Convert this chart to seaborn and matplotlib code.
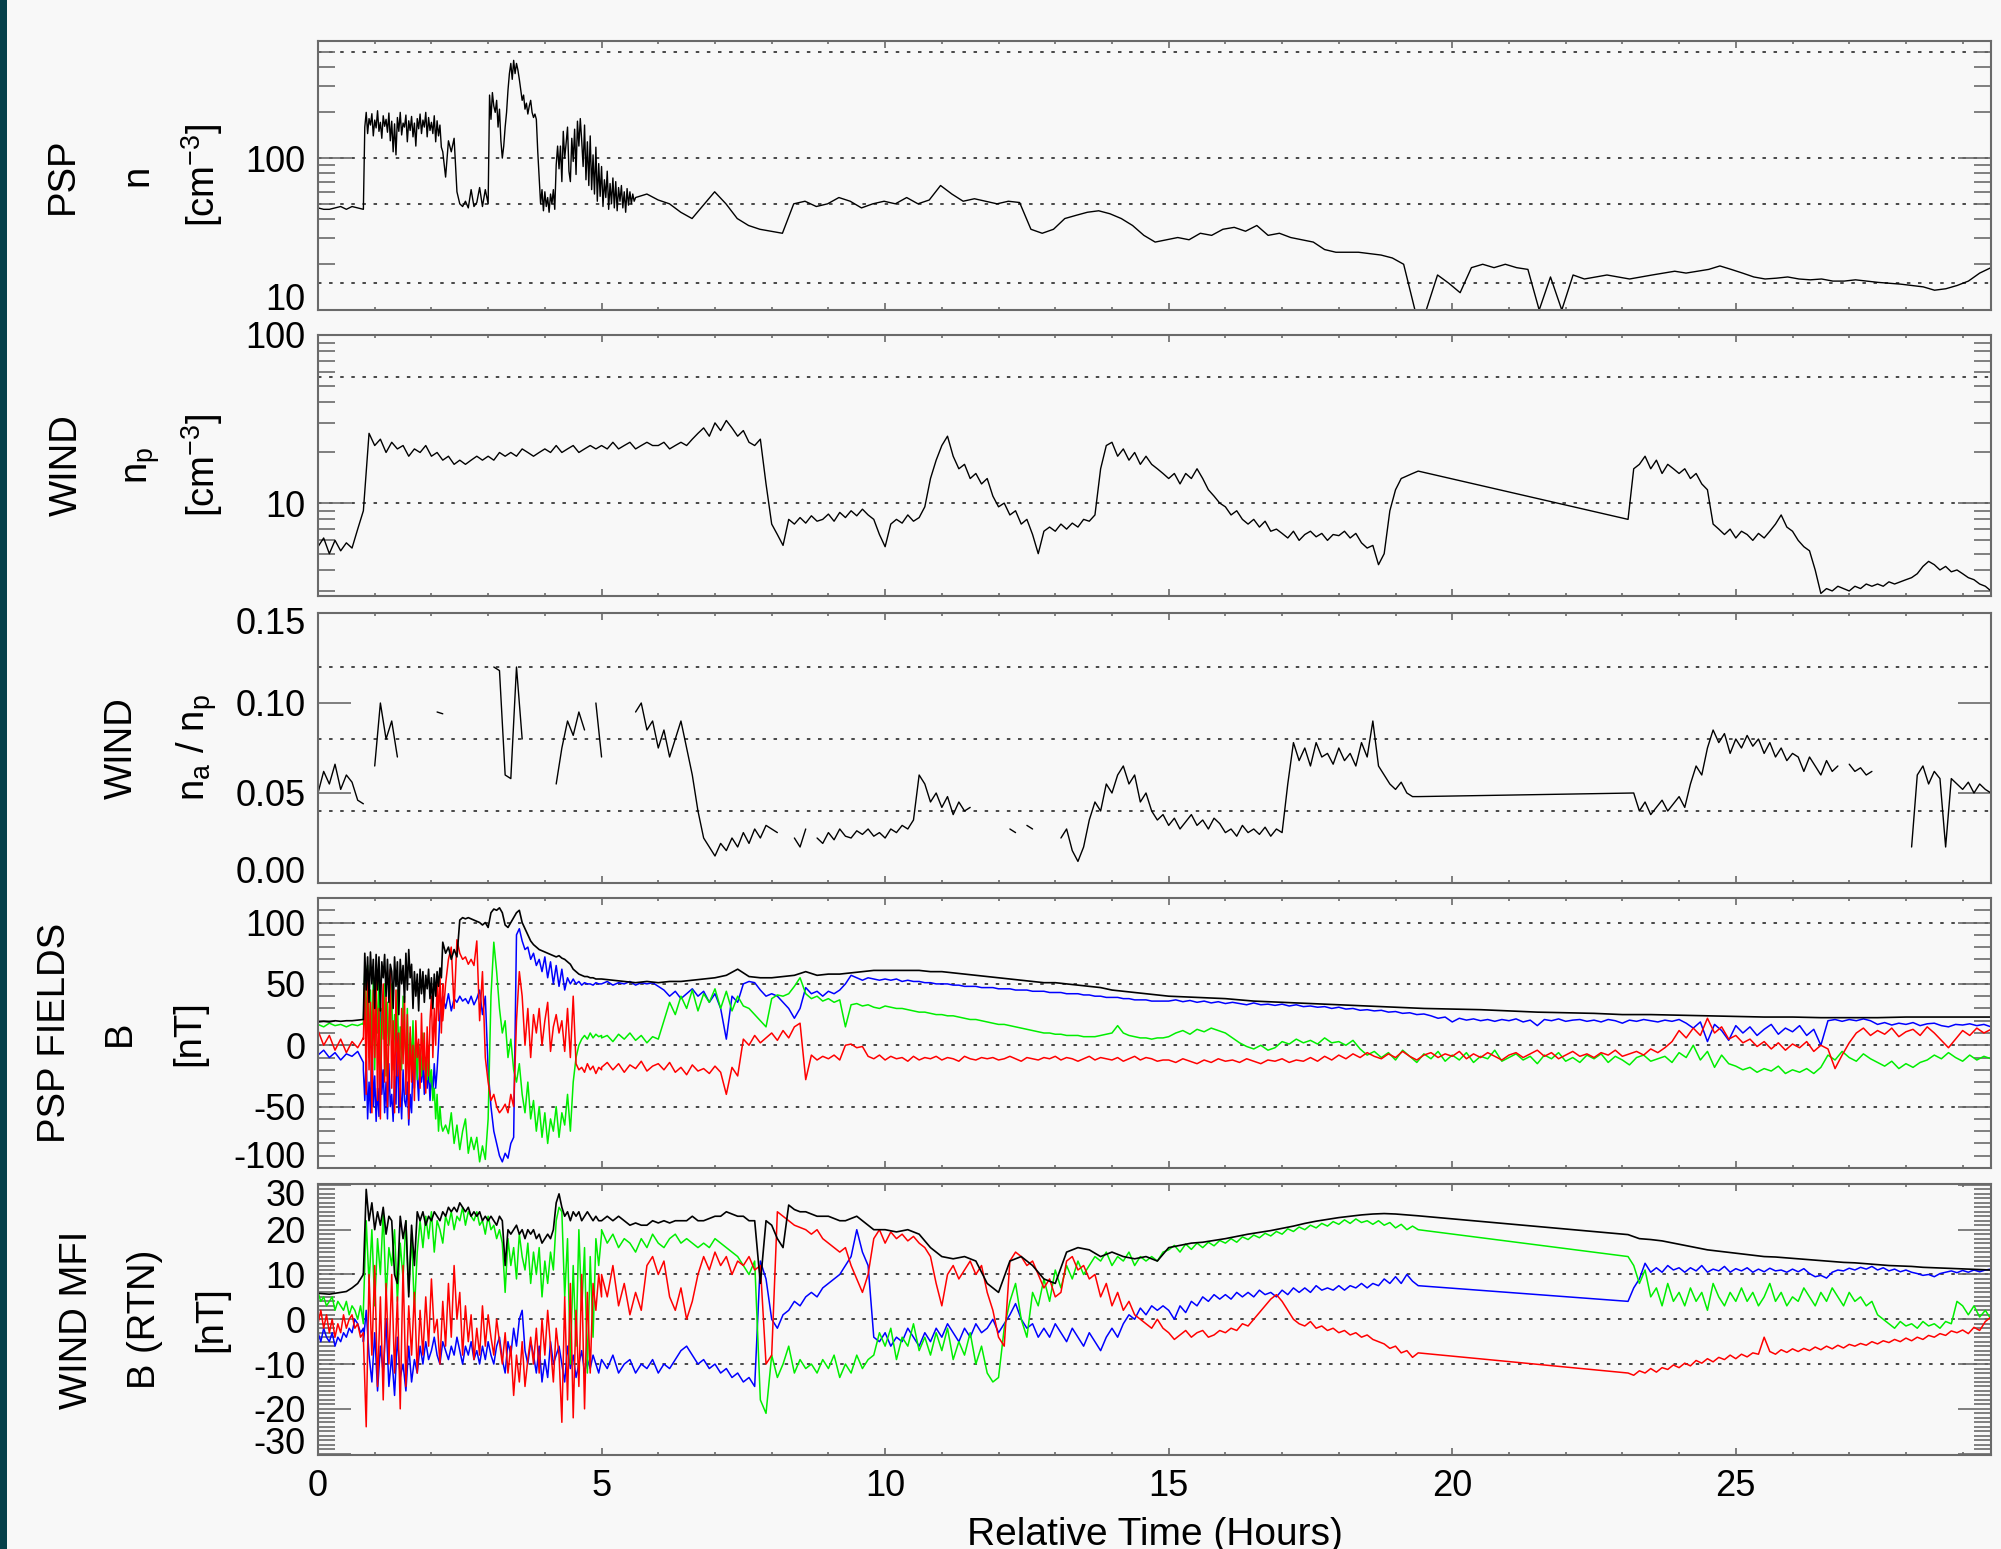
import numpy as np
import pandas as pd
import matplotlib
matplotlib.use("Agg")
import matplotlib.pyplot as plt
import seaborn as sns
from matplotlib.ticker import FixedLocator, MultipleLocator, NullFormatter
from matplotlib.patches import Rectangle
from matplotlib.transforms import ScaledTranslation

sns.set_theme(style="ticks")
plt.rcParams["font.family"] = ["Liberation Sans", "DejaVu Sans"]
plt.rcParams["mathtext.fontset"] = "custom"
plt.rcParams["mathtext.rm"] = "Liberation Sans"
plt.rcParams["mathtext.it"] = "Liberation Sans"
plt.rcParams["mathtext.default"] = "regular"
plt.rcParams["axes.unicode_minus"] = False
plt.rcParams["lines.scale_dashes"] = False

nan = np.nan

# ---------------------------------------------------------------- data
# Each series is stored as pieces sampled evenly between segment bounds (hours).

# PSP density n [cm^-3]
psp_n_segs = [(0.0, 0.8), (0.8, 2.2), (2.2, 3.0), (3.0, 5.6), (5.6, 29.5)]
psp_n = [
    [47, 46, 46, 47, 48, 46, 48, 47, 46],
    [46, 160, 200, 145, 182, 165, 196, 140, 178, 158,
     205, 150, 172, 135, 190, 162, 180, 148, 198, 130,
     175, 110, 168, 105, 185, 150, 200, 142, 170, 160,
     192, 128, 176, 152, 188, 138, 170, 120, 182, 156,
     195, 145, 178, 160, 200, 138, 185, 152, 172, 145,
     190, 128, 176, 140, 165, 118, 110],
    [110, 75, 130, 110, 135, 60, 50, 48, 52, 47, 62, 48, 51, 64, 48, 62, 50],
    [50, 260, 180, 270, 220, 200, 240, 160, 210, 130,
     100, 120, 160, 200, 280, 360, 420, 330, 440, 360,
     420, 380, 330, 280, 240, 260, 210, 230, 195, 220,
     240, 200, 185, 195, 180, 110, 75, 50, 62, 45,
     60, 48, 55, 44, 58, 50, 62, 46, 90, 120,
     85, 120, 70, 150, 100, 125, 160, 82, 70, 135,
     95, 155, 78, 175, 120, 182, 130, 88, 165, 72,
     128, 66, 140, 62, 105, 58, 118, 52, 92, 56,
     88, 48, 72, 55, 82, 46, 68, 50, 74, 47,
     70, 45, 64, 52, 66, 47, 60, 44, 63, 49,
     60, 50, 58, 52, 55],
    [55, 58, 53, 50, 44, 40, 49, 60, 50, 40,
     36, 34, 33, 32, 50, 52, 48, 50, 55, 52,
     47, 50, 52, 50, 55, 50, 53, 66, 58, 52,
     54, 52, 50, 52, 51, 34, 32, 34, 40, 42,
     44, 45, 43, 40, 36, 31, 28, 29, 30, 29,
     32, 31, 34, 35, 33, 36, 31, 32, 30, 29,
     28, 25, 24, 24, 24, 23.5, 23, 22, 20, 10,
     10, 17, 15, 13, 19, 20, 19, 20, 19, 18.5,
     10, 16.5, 10, 17, 16, 16.5, 17, 16.5, 16, 16.5,
     17, 17.5, 18, 17.5, 18, 18.5, 19.5, 18.5, 17.5, 16.5,
     16, 16.2, 16.5, 16, 15.8, 16, 15.5, 15.5, 15.8, 15.5,
     15.2, 15, 14.8, 14.5, 14.2, 13.5, 13.8, 14.5, 15.5, 17.5, 19],
]

# WIND proton density n_p [cm^-3]
wind_np_segs = [(0.0, 19.4), (23.1, 29.5)]
wind_np = [
    [5.5, 6.2, 5.0, 6.0, 5.2, 5.8, 5.4, 7.0, 9.0, 26,
     22, 24, 20, 23, 21, 22, 19, 21, 20, 22,
     19, 20, 18, 19, 17, 18, 17, 18, 19, 18,
     19, 18, 20, 19, 20, 19, 21, 20, 19, 20,
     21, 20, 22, 20, 21, 22, 20, 21, 22, 21,
     22, 21, 23, 21, 22, 23, 21, 22, 23, 22,
     22, 23, 21, 22, 23, 22, 24, 26, 28, 25,
     30, 27, 31, 28, 25, 27, 23, 22, 24, 13,
     7.5, 6.5, 5.6, 8.0, 7.5, 8.2, 7.6, 8.4, 7.8, 8.0,
     8.6, 7.8, 8.8, 8.2, 9.0, 8.4, 9.2, 8.5, 8.0, 6.5,
     5.5, 7.5, 8.0, 7.6, 8.5, 7.8, 8.2, 9.5, 14, 18,
     22, 25, 19, 16, 17, 14, 15, 13, 14, 11,
     9.5, 10, 8.5, 9.0, 7.5, 8.0, 6.5, 5.0, 6.8, 7.2,
     6.8, 7.5, 7.0, 7.6, 7.2, 8.0, 7.8, 8.5, 16, 22,
     23, 19, 21, 18, 20, 17, 19, 17, 16, 15,
     14, 15, 13, 15, 14, 16, 14, 12, 11, 10,
     9.5, 8.5, 9.0, 8.0, 7.5, 8.0, 7.2, 7.8, 6.8, 7.0,
     6.6, 6.2, 6.8, 6.0, 6.5, 6.8, 6.3, 6.6, 6.0, 6.5,
     6.4, 6.8, 6.2, 6.6, 5.8, 5.4, 5.6, 4.3, 5.0, 9.0,
     12, 14, 14.5, 15, 15.5],
    [8.0, 16, 17, 19, 16, 18, 15, 17, 16, 15,
     16, 14, 15, 13, 12, 7.5, 7.0, 6.5, 7.0, 6.2,
     6.8, 6.5, 6.0, 6.6, 6.2, 6.8, 7.5, 8.5, 7.2, 6.8,
     6.0, 5.5, 5.2, 4.0, 2.9, 3.1, 3.0, 3.2, 3.1, 3.0,
     3.2, 3.1, 3.3, 3.2, 3.3, 3.2, 3.4, 3.3, 3.4, 3.5,
     3.6, 3.8, 4.2, 4.5, 4.3, 4.0, 4.2, 3.9, 4.0, 3.8,
     3.6, 3.5, 3.3, 3.2, 3.0],
]

# WIND alpha-to-proton ratio (nan = no data)
wind_ratio_segs = [(0.0, 19.4), (23.2, 29.5)]
wind_ratio = [
    [0.050, 0.062, 0.055, 0.066, 0.052, 0.060, 0.056, 0.046, 0.044, nan,
     0.065, 0.100, 0.080, 0.090, 0.070, nan, nan, nan, nan, nan,
     nan, 0.095, 0.094, nan, nan, nan, nan, nan, nan, nan,
     nan, 0.120, 0.118, 0.060, 0.058, 0.120, 0.080, nan, nan, nan,
     nan, nan, 0.055, 0.075, 0.090, 0.082, 0.095, 0.085, nan, 0.100,
     0.070, nan, nan, nan, 0.100, nan, 0.095, 0.100, 0.085, 0.090,
     0.075, 0.085, 0.070, 0.080, 0.090, 0.075, 0.060, 0.040, 0.025, 0.020,
     0.015, 0.022, 0.018, 0.025, 0.020, 0.028, 0.022, 0.030, 0.025, 0.032,
     0.030, 0.028, nan, nan, 0.025, 0.020, 0.030, nan, 0.025, 0.022,
     0.028, 0.024, 0.030, 0.026, 0.025, 0.029, 0.027, 0.030, 0.026, 0.028,
     0.025, 0.030, 0.028, 0.032, 0.030, 0.035, 0.060, 0.055, 0.045, 0.050,
     0.042, 0.048, 0.038, 0.045, 0.040, 0.042, nan, nan, nan, nan,
     nan, nan, 0.030, 0.028, nan, 0.032, 0.030, nan, nan, nan,
     nan, 0.025, 0.030, 0.018, 0.012, 0.020, 0.035, 0.045, 0.040, 0.055,
     0.050, 0.060, 0.065, 0.055, 0.060, 0.045, 0.050, 0.040, 0.035, 0.038,
     0.032, 0.036, 0.030, 0.034, 0.038, 0.032, 0.035, 0.030, 0.036, 0.033,
     0.028, 0.030, 0.026, 0.032, 0.028, 0.030, 0.027, 0.031, 0.026, 0.030,
     0.028, 0.055, 0.078, 0.068, 0.075, 0.065, 0.078, 0.070, 0.072, 0.066,
     0.075, 0.068, 0.072, 0.065, 0.078, 0.070, 0.090, 0.065, 0.060, 0.055,
     0.052, 0.056, 0.050, 0.048, 0.048],
    [0.050, 0.040, 0.045, 0.038, 0.042, 0.046, 0.040, 0.044, 0.048, 0.042,
     0.055, 0.065, 0.060, 0.075, 0.085, 0.078, 0.083, 0.072, 0.080, 0.075,
     0.082, 0.076, 0.080, 0.072, 0.078, 0.070, 0.075, 0.068, 0.072, 0.070,
     0.062, 0.070, 0.065, 0.060, 0.068, 0.062, 0.065, nan, 0.066, 0.062,
     0.064, 0.060, 0.062, nan, nan, nan, nan, nan, nan, 0.020,
     0.060, 0.065, 0.055, 0.062, 0.058, 0.020, 0.058, 0.055, 0.052, 0.056,
     0.050, 0.055, 0.052, 0.050],
]

# PSP FIELDS magnetic field [nT]
psp_b_segs = [(0.0, 0.8), (0.8, 2.2), (2.2, 5.0), (5.0, 15.0), (15.0, 29.5)]
psp_b_mag = [
    [19, 19.5, 19, 20, 19.5, 20, 20, 20.5, 21],
    [22, 75, 45, 72, 35, 76, 50, 70, 30, 74,
     45, 72, 28, 68, 55, 74, 40, 70, 35, 66,
     60, 30, 72, 48, 68, 25, 70, 50, 65, 35,
     75, 45, 78, 55, 66, 30, 60, 40, 58, 28,
     62, 42, 60, 35, 57, 46, 62, 38, 55, 30,
     58, 40, 60, 48, 63, 55, 84],
    [84, 75, 80, 70, 78, 72, 102, 104, 103, 104,
     103, 102, 101, 100, 98, 100, 96, 108, 111, 110,
     112, 108, 98, 96, 100, 104, 108, 110, 100, 95,
     90, 85, 82, 80, 78, 77, 76, 75, 74, 73,
     72, 73, 71, 70, 68, 66, 62, 60, 58, 57,
     56, 56, 55, 55, 54, 54, 54],
    [54, 53, 52, 51, 52, 51, 52, 52, 53, 54,
     55, 57, 62, 56, 55, 55, 56, 57, 60, 57,
     58, 58, 59, 60, 61, 61, 61, 61, 61, 60,
     60, 59, 58, 57, 56, 55, 54, 53, 52, 51,
     51, 50, 49, 48, 47, 45, 44, 43, 42, 41, 40],
    [40, 39, 38, 36, 35, 34, 33, 32, 31, 30,
     29.5, 29, 28, 27, 26.5, 26, 25, 25, 24.5, 24,
     23.5, 23, 23, 22.5, 22.5, 22.5, 23, 23, 23, 23],
]
psp_b_blue = [
    [-8, -4, -10, -6, -12, -7, -9, -5, -14],
    [-20, -45, -10, -60, -30, -55, 15, -50, -25, -62,
     -35, -58, 30, -40, -20, -55, -30, -60, -15, -50,
     -40, -62, -25, -48, 10, -55, -35, -60, -20, -45,
     -50, -30, -65, -40, -55, -10, -35, 5, -25, -45,
     -5, -30, -15, -40, -10, -35, -20, -45, -25, -38,
     -15, -35, -20, 0, 25, 35, 40],
    [40, 30, 42, 28, 38, 35, 40, 36, 38, 34,
     40, 33, 38, 45, 25, 40, -20, -50, -70, -80,
     -90, -95, -88, -92, -80, -75, 90, 95, 85, 78,
     80, 70, 75, 65, 70, 60, 72, 55, 68, 50,
     65, 48, 62, 45, 55, 50, 54, 50, 52, 49,
     51, 50, 50, 49, 51, 50, 50],
    [50, 52, 49, 51, 50, 52, 49, 51, 50, 51,
     48, 45, 40, 44, 38, 42, 46, 40, 44, 35,
     42, 30, 5, 40, 35, 50, 52, 51, 45, 40,
     42, 40, 35, 30, 22, 30, 47, 42, 44, 40,
     44, 42, 45, 50, 57, 55, 53, 55, 54, 53,
     54, 53, 54, 52, 53, 52, 52, 51, 51, 50,
     50, 50, 49, 49, 48, 48, 48, 47, 47, 47,
     46, 46, 46, 45, 45, 45, 44, 44, 44, 43,
     43, 43, 42, 42, 42, 41, 41, 40, 40, 39,
     39, 39, 38, 38, 37, 37, 37, 36, 36, 36,
     36],
    [36, 37, 35.5, 36.5, 35, 36, 34.5, 35.5, 34, 35,
     34, 33, 34.5, 33, 33.5, 32.5, 33.5, 32, 33, 31.5,
     32, 31, 31.5, 30, 31, 29.5, 30, 28.5, 29, 28,
     28.5, 27, 27.5, 26, 26.5, 25, 25.5, 24, 22, 23,
     19, 22, 20.5, 21.5, 20, 21, 19.5, 21, 20, 21.5,
     19, 20.5, 16, 21, 20, 21.5, 19.5, 20.5, 21, 19.5,
     20.5, 19, 21, 20, 18, 20.5, 19.5, 21, 20, 19,
     20.5, 19.5, 21, 18, 14, 19, 3, 17, 12, 4,
     16, 10, 15, 8, 13, 17, 9, 14, 11, 16,
     8, 13, 0, 20, 21, 19.5, 21, 20, 21.5, 20,
     17, 18.5, 16.5, 18, 17, 18.5, 16, 17.5, 18, 16,
     15, 17, 16.5, 17.5, 16, 17, 15],
]
psp_b_green = [
    [17, 15, 18, 16, 17, 15, 17, 16, 18],
    [17, 60, 10, 65, -10, 45, 0, 55, -20, 40,
     10, 60, -15, 30, 5, 50, -25, 35, 0, 20,
     50, -20, 25, -5, 45, -15, 15, -20, 40, 5,
     -10, 30, -25, 10, -15, 20, -20, 5, -28, 0,
     -5, -25, 10, -20, -10, -28, 0, -30, -20, -45,
     -35, -60, -40, -70, -50, -65, -70],
    [-70, -65, -72, -55, -80, -65, -85, -70, -60, -88,
     -75, -85, -75, -95, -82, -93, -60, 40, 84, 60,
     30, 10, 20, -10, 5, -20, -30, -15, -40, -55,
     -30, -60, -45, -70, -50, -75, -55, -80, -60, -70,
     -50, -75, -55, -65, -40, -70, -30, -10, 0, 5,
     8, 5, 10, 6, 9, 7, 8],
    [6, 8, 3, 9, 5, 10, 4, 8, 2, 7,
     5, 20, 35, 25, 40, 30, 45, 28, 42, 35,
     46, 30, 44, 28, 40, 32, 30, 25, 20, 15,
     38, 41, 40, 42, 48, 55, 42, 38, 40, 36,
     38, 35, 37, 15, 33, 34, 32, 33, 31, 30,
     32, 31, 30, 30, 29, 28, 27, 27, 26, 25,
     25, 24, 24, 23, 22, 21, 21, 20, 19, 18,
     17, 17, 16, 15, 14, 13, 12, 11, 10, 10,
     9, 9, 8, 8, 8, 7, 7, 7, 8, 9,
     10, 16, 10, 8, 7, 6, 6, 5, 6, 6,
     7],
    [7, 10, 12, 9, 13, 11, 14, 12, 10, 6,
     2, -1, -3, 0, -4, -2, 3, 1, 5, 2,
     4, 1, 6, 2, 3, 0, 4, -3, -8, -5,
     -10, -6, -12, -4, -9, -14, -7, -11, -5, -13,
     -8, -12, -6, -14, -9, -11, -4, -13, -10, -7,
     -12, -9, -15, -8, -11, -6, -13, -10, -14, -8,
     -11, -7, -14, -9, -12, -16, -10, -8, -13, -11,
     -9, -14, -6, -10, 0, -12, -5, -18, -8, -15,
     -17, -20, -18, -22, -19, -21, -17, -23, -20, -22,
     -19, -23, -18, -8, -12, -5, -10, -13, -7, -11,
     -14, -17, -13, -19, -15, -18, -14, -12, -8, -11,
     -6, -10, -13, -8, -12, -9, -11],
]
psp_b_red = [
    [12, 0, 8, -4, 5, -6, 3, -2, 6],
    [5, 50, -40, 60, -20, 35, -55, 45, -10, 55,
     -45, 30, -60, 20, 50, -30, 40, -50, 10, 62,
     -35, 20, -55, 45, -25, 10, -50, 30, -15, 40,
     -40, 25, -60, 15, -30, 0, -45, 20, -10, 5,
     -35, 26, -20, 10, -39, 15, -25, 20, 40, -10,
     30, 0, 55, 20, 60, 10, 50],
    [20, 50, 70, 80, 30, 86, 75, 70, 72, 66,
     70, 65, 85, 20, 60, -10, -30, -45, -40, -50,
     -55, -52, -48, -55, -40, -50, 20, 60, 40, 0,
     30, -10, 25, 10, 30, 0, 20, 35, -5, 15,
     25, 10, 20, -5, 30, -10, 40, -15, -20, -18,
     -22, -15, -20, -17, -23, -18, -20],
    [-18, -14, -20, -15, -22, -16, -19, -13, -21, -17,
     -15, -20, -14, -22, -18, -24, -16, -21, -19, -23,
     -17, -22, -40, -18, -25, 5, 0, 8, 2, 6,
     10, 4, 12, 6, 15, 18, -28, -8, -12, -9,
     -11, -8, -12, 0, 1, -2, -1, -9, -11, -8,
     -12, -9, -11, -10, -13, -9, -12, -10, -11, -9,
     -12, -10, -11, -13, -9, -11, -12, -10, -11, -10,
     -12, -11, -9, -11, -13, -10, -11, -12, -10, -11,
     -9, -12, -10, -11, -13, -11, -9, -12, -10, -11,
     -12, -10, -13, -11, -9, -12, -10, -11, -13, -12,
     -12],
    [-12, -14, -11, -13, -15, -12, -14, -11, -13, -12,
     -14, -11, -13, -15, -12, -13, -11, -14, -12, -13,
     -10, -13, -9, -12, -8, -11, -7, -10, -6, -9,
     -11, -7, -10, -5, -9, -12, -8, -6, -10, -7,
     -9, -5, -11, -7, -10, -6, -9, -12, -8, -6,
     -10, -7, -4, -9, -6, -11, -8, -5, -9, -7,
     -10, -6, -8, -4, -9, -7, -5, -8, -3, -6,
     -2, 3, 12, 6, 14, 8, 22, 10, 15, 5,
     8, 2, 5, -1, 3, -3, 2, -4, 1, -2,
     3, -5, 0, -3, -19, -8, 2, 10, 14, 8,
     12, 9, 14, 7, 11, 13, 8, 15, 10, 4,
     -2, 5, 12, 8, 14, 10, 13],
]

# WIND MFI magnetic field, RTN [nT]
wind_b_segs = [(0.0, 0.8), (0.8, 5.0), (5.0, 9.8), (9.8, 15.0), (15.0, 19.4), (23.1, 29.5)]
wind_b_mag = [
    [5.8, 5.7, 5.6, 5.8, 6.0, 6.2, 7.0, 8.0, 10],
    [10, 29, 22, 26, 20, 24, 21, 25, 19, 23,
     22, 10, 8, 23, 18, 22, 5, 21, 12, 24,
     22, 24, 21, 23, 22, 24, 23, 22, 24, 23,
     25, 24, 25, 24, 26, 25, 24, 25, 23, 24,
     23, 24, 22, 23, 22, 23, 22, 21, 23, 22,
     12, 20, 19, 20, 21, 19, 20, 18, 20, 19,
     20, 18, 19, 17, 18, 19, 18, 20, 26, 28,
     25, 23, 24, 22, 24, 23, 24, 22, 23, 24,
     23, 22, 23, 22, 22],
    [22, 23, 22, 23, 22, 21, 21.5, 21, 21, 22,
     21.5, 22, 21.5, 22, 22, 22, 23, 22, 22, 22.5,
     23, 23, 24, 23.5, 23, 23, 22, 22, 8, 22,
     21, 18, 16, 25.5, 24.5, 24, 24, 23.5, 23, 23,
     23, 22.5, 22, 22, 22.5, 23, 22, 21, 20],
    [20, 20, 19.5, 20, 19, 16, 14, 13.5, 14, 13,
     8, 6, 13, 14, 12, 9, 8, 15, 16, 15.5,
     14, 15, 14, 13.5, 14, 13, 16],
    [16, 16.5, 17, 17.2, 17.6, 18, 18.5, 19, 19.4, 19.8,
     20.3, 20.8, 21.4, 21.9, 22.3, 22.7, 23, 23.3, 23.5, 23.6,
     23.5, 23.3, 23.1],
    [18.9, 18, 17.8, 17.5, 17, 16.5, 16, 15.5, 15.2, 14.9,
     14.6, 14.3, 14, 13.9, 13.7, 13.5, 13.3, 13.1, 12.9, 12.7,
     12.6, 12.4, 12.2, 12.0, 11.9, 11.8, 11.6, 11.5, 11.4, 11.3,
     11.2, 11.1, 11.0],
]
wind_b_green = [
    [6, 4, 5, 3, 4, 5, 2, 4, 3, 2, 4, 1, 3, 2, 0, 3, -1],
    [2, 22, 8, 20, 3, 18, 10, 24, 5, 16,
     12, 20, 4, 17, 9, 22, 6, 19, 2, 15,
     22, 16, 23, 18, 24, 15, 22, 20, 17, 23,
     21, 24, 20, 23, 22, 25, 21, 24, 23, 22,
     24, 21, 22, 19, 23, 20, 21, 18, 20, 17,
     6, 18, 12, 16, 9, 19, 14, 11, 17, 8,
     15, 10, 16, 5, 13, 8, 15, 11, 22, 25,
     24, 5, 18, -10, 12, -6, 20, 2, 16, -12,
     14, -4, 18, 12, 19],
    [20, 17, 19, 16, 18, 17, 15, 18, 16, 19,
     17, 16, 18, 19, 17, 18, 17, 16, 17, 16,
     18, 17, 16, 15, 14, 12, 10, 13, -18, -21,
     -8, -13, -10, -6, -12, -9, -11, -10, -12, -9,
     -11, -8, -13, -10, -12, -8, -11, -9, -8],
    [-8, -3, -6, -2, -9, -4, -6, -1, -7, -4,
     -8, -3, -7, -2, -9, -5, -8, -3, -10, -6,
     -12, -14, -13, -2, 4, 8, 0, -4, 6, 3,
     9, 4, 11, 7, 12, 9, 13, 10, 12, 14,
     13, 15, 12, 14, 13, 15, 12, 14, 13, 14,
     13, 15, 15.5],
    [15.5, 16.5, 15, 16.8, 15.6, 17, 16, 17.2, 16.4, 17.6,
     17, 18, 17.2, 18.4, 17.8, 18.8, 18.2, 19.2, 18.6, 19.6,
     19, 20.2, 19.6, 20.6, 20, 21, 20.4, 21.4, 20.8, 21.8,
     21.2, 22.2, 21.4, 22.4, 21.6, 22, 21.2, 22, 21, 21.6,
     20.4, 21.2, 20, 20.8, 20],
    [14, 12, 8, 11, 5, 7, 3, 8, 4, 6,
     3, 7, 4, 6, 2, 8, 5, 3, 6, 4,
     7, 4, 6, 3, 5, 8, 4, 6, 3, 5,
     4, 7, 5, 3, 6, 4, 7, 5, 3, 6,
     4, 5, 3, 4, 1, 0, -1, -2, -0.5, -1.5,
     -1, -2, -0.5, -1.5, -1, -2, -0.5, -1, 4, 3,
     1, 3, 0.5, 2, 0],
]
wind_b_blue = [
    [-3, -5, -2, -4, -5, -3, -6, -4, -5, -3, -4, -2, -3, 0, -1, -3, -2],
    [-5, 2, -8, -14, -3, -16, -6, -12, 0, -15,
     -8, -17, -4, -13, -10, -16, -6, -14, -9, -12,
     -6, -10, -5, -9, -7, -4, -8, -10, -5, -7,
     -9, -6, -8, -4, -7, -10, -6, -8, -5, -9,
     -7, -10, -6, -9, -5, -8, -10, -6, -4, -9,
     -12, -5, -8, -2, -6, 0, 2, -7, -10, -5,
     -8, -12, -6, -14, -9, -13, -5, -10, -8, -6,
     -10, -14, -6, -11, -8, -13, -10, -7, -12, -9,
     -11, -8, -10, -12, -9],
    [-9, -11, -8, -12, -10, -9, -12, -10, -11, -9,
     -12, -10, -11, -9, -7, -6, -8, -10, -9, -11,
     -10, -12, -11, -13, -12, -14, -13, -15, 13, 9,
     0, -2, 1, 2, 4, 3, 5, 6, 5, 7,
     8, 9, 10, 12, 14, 20, 15, 12, -4],
    [-4, -5, -3, -6, -4, -5, -2, -4, -6, -3,
     -5, -2, -4, -1, -3, -5, -2, -4, -1, -3,
     -2, 0, -3, -1, 1, 3.5, 0, -2, -1, -4,
     -2, -4, -1, -3, -5, -2, -4, -6, -3, -5,
     -7, -4, -2, -4, -1, 1, 0, 2.5, 1, 3,
     2, 3, 2],
    [2, 0, 3, 1.5, 4, 3, 5, 4, 5.5, 4.5,
     5.5, 4.5, 6, 5, 6, 5, 6.5, 5.5, 6, 5,
     6.5, 5.5, 7, 6, 7, 6, 7.5, 6.5, 7, 6.5,
     7.5, 6.5, 7.5, 7, 8, 7, 8, 7.5, 9, 8,
     9.5, 8, 10, 8.5, 7.5],
    [4, 7, 9, 12.5, 10.5, 11.5, 10.5, 12, 11, 11.5,
     10.5, 11.5, 10.8, 12, 10.5, 11.2, 10.8, 11.8, 10.5, 11.3,
     10.8, 11.5, 10.5, 11.2, 10.6, 11.4, 10.8, 11, 10.5, 11.2,
     10.6, 11.3, 10.2, 9.5, 9.8, 9.2, 10.5, 11, 10.8, 11.4,
     11, 11.6, 11.2, 11.8, 11, 11.5, 10.8, 11.2, 10.6, 11,
     10.5, 10.2, 9.8, 10, 9.5, 10.2, 10.5, 10.8, 10.4, 10.9,
     10.5, 11, 10.6, 11, 11.2],
]
wind_b_red = [
    [-1, 2, -2, 1, -3, 0, -4, -1, -3, 1, -2, 0, 1, -2, -1, -4, -3],
    [-4, -24, 10, -8, 12, -15, 5, -18, 8, -10,
     10, -12, 5, -20, 12, -15, 3, -8, 6, -12,
     2, -8, 5, -6, 9, -3, 0, -10, 4, -6,
     8, -4, 12, 0, 6, -8, 3, -5, 1, -9,
     -2, -8, 3, -6, 1, -4, -8, 0, -5, -10,
     -3, -12, -6, -17, -8, -14, -5, -15, -9, -4,
     -10, -2, -12, 0, -8, 2, -6, -14, -2, -8,
     -23, 5, -18, 8, -22, 2, -15, 10, -20, 6,
     -12, 8, 2, 10, 5],
    [10, 5, 12, 3, 8, 1, 6, 2, 12, 14,
     10, 13, 5, 2, 7, 0, 4, 10, 14, 11,
     15, 12, 14, 10, 13, 12, 14, 11, 12, -10,
     -8, 24, 23, 22, 21, 20.5, 20, 19, 20, 18,
     17, 16, 15, 16, 12, 9, 6, 10, 18],
    [18, 20, 17, 19.5, 18, 19, 17.5, 18.5, 17, 16,
     14, 8, 3, 10, 12, 9, 11, 13, 10, 12,
     6, 2, -4, -6, 13, 15, 14, 12, 13, 10,
     7, 9, 5, 6, 13, 14, 11, 12, 9, 10,
     5, 8, 3, 6, 2, 4, 1, 0, -1, -2,
     0, -2, -3],
    [-3, -4.5, -3.5, -2.5, -4, -3, -2.5, -4, -3.5, -2.5,
     -3, -2, -2.5, -1, -1.5, 0, 1.5, 3, 4.5, 5.5,
     4, 2, 0, -1, -1.5, -0.5, -2, -1.5, -2.5, -2,
     -3, -2.5, -3.5, -3, -4, -3.5, -4.5, -5, -5.5, -6.5,
     -6, -7.5, -7, -8.5, -7.5],
    [-12, -12.5, -11.5, -12, -11, -11.8, -10.8, -11.2, -10.2, -10.8,
     -9.8, -10.4, -9.2, -9.8, -8.8, -9.5, -8.5, -9, -8, -8.8,
     -7.8, -8.4, -7.5, -7.8, -4, -7.2, -7.8, -6.8, -7.4, -6.6,
     -7.2, -6.5, -7, -6.2, -6.8, -6, -6.6, -5.8, -6.4, -5.6,
     -6, -5.4, -5.8, -5, -5.5, -4.8, -5.2, -4.5, -5, -4.2,
     -4.8, -4, -4.5, -3.6, -4, -3.2, -3.6, -2.6, -3, -2.4,
     -3.2, -1.8, -2.5, -0.5, 0.5],
]

# ---------------------------------------------------------------- helpers
def series(segs, parts):
    t = np.concatenate([np.linspace(a, b, len(p)) for (a, b), p in zip(segs, parts)])
    v = np.concatenate([np.asarray(p, dtype=float) for p in parts])
    return t, v


def draw(ax, segs, parts, color, lw=1.0):
    t, v = series(segs, parts)
    df = pd.DataFrame({"t": t, "v": v})
    df["run"] = df["v"].isna().cumsum()
    df = df.dropna()
    sns.lineplot(data=df, x="t", y="v", units="run", estimator=None, sort=False,
                 color=color, linewidth=lw, ax=ax, legend=False)
    ax.set_xlabel("")
    ax.set_ylabel("")


BG = "#f8f8f8"
FRAME = "#6a6a6a"
GRID = "#3a3a3a"
FS_TICK = 26
FS_LAB = 27.5

W, H = 2001, 1549
fig = plt.figure(figsize=(W / 100, H / 100), dpi=100, facecolor=BG)
fig.add_artist(Rectangle((0, 0), 7 / W, 1, transform=fig.transFigure,
                         facecolor="#06404a", edgecolor="none"))

L, R = 318, 1991
boxes = [(41, 310), (335, 596), (613, 883), (898, 1168), (1184, 1455)]
axes = []
for top, bot in boxes:
    ax = fig.add_axes([L / W, 1 - bot / H, (R - L) / W, (bot - top) / H])
    ax.set_facecolor(BG)
    axes.append(ax)

ax1, ax2, ax3, ax4, ax5 = axes
ax1.set_yscale("log")
ax2.set_yscale("log")

draw(ax1, psp_n_segs, psp_n, "black", 1.0)
draw(ax2, wind_np_segs, wind_np, "black", 1.0)
draw(ax3, wind_ratio_segs, wind_ratio, "black", 1.0)
for parts, col, lw in [(psp_b_blue, "#0000ff", 1.1), (psp_b_green, "#00ee00", 1.1),
                       (psp_b_red, "#ff0000", 1.1), (psp_b_mag, "black", 1.2)]:
    draw(ax4, psp_b_segs, parts, col, lw)
for parts, col, lw in [(wind_b_blue, "#0000ff", 1.1), (wind_b_green, "#00ee00", 1.1),
                       (wind_b_red, "#ff0000", 1.1), (wind_b_mag, "black", 1.2)]:
    draw(ax5, wind_b_segs, parts, col, lw)

# ---------------------------------------------------------------- axes styling
ax1.set_ylim(10, 590)
ax2.set_ylim(2.8, 100)
ax3.set_ylim(0, 0.15)
ax4.set_ylim(-100, 120)
ax5.set_ylim(-30.3, 30.2)

guides = {0: [15, 50, 100, 500], 1: [10, 56], 2: [0.04, 0.08, 0.12],
          3: [-50, 0, 50, 100], 4: [-10, 0, 10]}

major = {0: [10, 100], 1: [10, 100], 2: [0, 0.05, 0.10, 0.15],
         3: [-100, -50, 0, 50, 100], 4: [-30, -20, -10, 0, 10, 20, 30]}
labels = {0: ["10", "100"], 1: ["10", "100"], 2: ["0.00", "0.05", "0.10", "0.15"],
          3: ["-100", "-50", "0", "50", "100"],
          4: ["-30", "-20", "-10", "0", "10", "20", "30"]}
minor = {0: [20, 30, 40, 50, 60, 70, 80, 90, 200, 300, 400, 500],
         1: [3, 4, 5, 6, 7, 8, 9, 20, 30, 40, 50, 60, 70, 80, 90],
         2: [],
         3: list(range(-90, 120, 10)),
         4: list(range(-30, 31, 1))}
# labels sitting on an axis limit are pulled inside the frame
edge_labels = {0: {0: "baseline"}, 2: {0: "baseline", 3: "top"}, 3: {0: "baseline"},
               4: {0: "baseline", 6: "top"}}

for i, ax in enumerate(axes):
    ax.set_xlim(0, 29.5)
    for y in guides[i]:
        ax.axhline(y, color=GRID, lw=1.3, ls=(0, (2.5, 5.5)), zorder=0.5)
    for sp in ax.spines.values():
        sp.set_color(FRAME)
        sp.set_linewidth(1.5)
    ax.yaxis.set_major_locator(FixedLocator(major[i]))
    ax.set_yticklabels(labels[i])
    ax.yaxis.set_minor_locator(FixedLocator(minor[i]))
    ax.yaxis.set_minor_formatter(NullFormatter())
    ax.xaxis.set_major_locator(MultipleLocator(5))
    ax.xaxis.set_minor_locator(MultipleLocator(1))
    ax.tick_params(axis="y", which="major", direction="in", length=24, width=1.2,
                   left=True, right=True, color=FRAME, labelsize=FS_TICK,
                   labelcolor="black", pad=9)
    ax.tick_params(axis="y", which="minor", direction="in", length=12, width=1.2,
                   left=True, right=True, color=FRAME)
    ax.tick_params(axis="x", which="major", direction="in", length=5, width=1.2,
                   top=True, bottom=True, color=FRAME, labelsize=FS_TICK,
                   labelcolor="black", pad=10)
    ax.tick_params(axis="x", which="minor", direction="in", length=2.5, width=1.2,
                   top=True, bottom=True, color=FRAME)
    if i < 4:
        ax.tick_params(axis="x", labelbottom=False)
    ticks = ax.yaxis.get_major_ticks()
    for k, va in edge_labels.get(i, {}).items():
        lab = ticks[k].label1
        lab.set_verticalalignment(va)
        if va == "top":
            lab.set_transform(lab.get_transform()
                              + ScaledTranslation(0, 6 / 100, fig.dpi_scale_trans))

# ---------------------------------------------------------------- titles
ylabels = [
    [(63, "PSP"), (137, "n"), (202, "[cm$^{-3}$]")],
    [(67, "WIND"), (143, "n$_{p}$"), (202, "[cm$^{-3}$]")],
    [(122, "WIND"), (197, "n$_{a}$ / n$_{p}$")],
    [(55, "PSP FIELDS"), (120, "B"), (189, "[nT]")],
    [(77, "WIND MFI"), (145, "B (RTN)"), (211, "[nT]")],
]
for (top, bot), items in zip(boxes, ylabels):
    yc = 1 - (top + bot) / 2 / H
    for x, s in items:
        fig.text(x / W, yc, s, rotation=90, ha="center", va="center",
                 fontsize=FS_LAB, color="black")

fig.text((L + R) / 2 / W, 4 / H, "Relative Time (Hours)", ha="center",
         va="baseline", fontsize=28, color="black")

fig.savefig("out.png", dpi=100, facecolor=BG)
